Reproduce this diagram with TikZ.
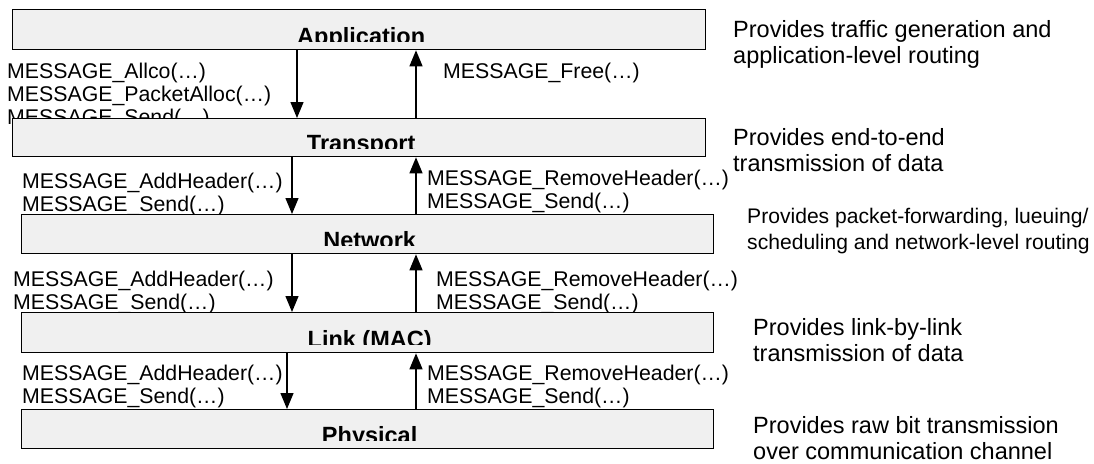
\documentclass[tikz,border=0pt]{standalone}
\usepackage{fontspec}
\setmainfont{Liberation Sans}
\usetikzlibrary{arrows.meta}

\definecolor{layerfill}{RGB}{240,240,240}

\tikzset{
	layer/.style={draw, line width=1.3pt, fill=layerfill, inner sep=0pt, anchor=north west},
	lbl/.style={font=\fontsize{23.5}{25}\selectfont\bfseries, inner sep=0pt, anchor=base},
	call/.style={font=\fontsize{21.3}{23}\selectfont, align=left, inner sep=0pt, anchor=north west},
	desc/.style={font=\fontsize{23.5}{26}\selectfont, align=left, inner sep=0pt, anchor=north west},
	flow/.style={line width=1.3pt, -{Triangle[length=16pt,width=13pt]}},
}

\begin{document}
\begin{tikzpicture}[x=1pt, y=-1pt]
		\useasboundingbox (0, 0) rectangle (1094, 463);

		% calls between the layers (drawn first, the boxes cover the overflow)
		\node[call] (allocs) at (7, 62.7) {MESSAGE\_Allco(\dots)\\MESSAGE\_PacketAlloc(\dots)\\MESSAGE\_Send(\dots)};
		\node[call] (frees) at (443, 62.7) {MESSAGE\_Free(\dots)};
		\node[call] (tdown) at (22, 172.7) {MESSAGE\_AddHeader(\dots)\\MESSAGE\_Send(\dots)};
		\node[call] (tup) at (427, 169.7) {MESSAGE\_RemoveHeader(\dots)\\MESSAGE\_Send(\dots)};
		\node[call] (ndown) at (13, 270.7) {MESSAGE\_AddHeader(\dots)\\MESSAGE\_Send(\dots)};
		\node[call] (nup) at (436, 270.7) {MESSAGE\_RemoveHeader(\dots)\\MESSAGE\_Send(\dots)};
		\node[call] (ldown) at (22, 364.7) {MESSAGE\_AddHeader(\dots)\\MESSAGE\_Send(\dots)};
		\node[call] (lup) at (427, 364.7) {MESSAGE\_RemoveHeader(\dots)\\MESSAGE\_Send(\dots)};

		% the protocol stack
		\node[layer, minimum width=693pt, minimum height=40pt] (app) at (12, 9) {};
		\node[layer, minimum width=693pt, minimum height=38pt] (trans) at (12, 118) {};
		\node[layer, minimum width=692pt, minimum height=39pt] (net) at (21, 214) {};
		\node[layer, minimum width=692pt, minimum height=40pt] (link) at (21, 312) {};
		\node[layer, minimum width=692pt, minimum height=39pt] (phys) at (21, 409) {};

		\foreach \lay/\txt in {app/Application, trans/Transport, net/Network, link/Link (MAC), phys/Physical} {
			\begin{scope}
				\clip (\lay.north west) rectangle ([yshift=9pt]\lay.south east);
				\node[lbl] (\lay-name) at ([xshift=2pt, yshift=6pt]\lay.south) {\txt};
			\end{scope}
		}

		% down and up calls
		\draw[flow] (app.south -| 297, 0) -- (trans.north -| 297, 0);
		\draw[flow] (trans.north -| 416, 0) -- (app.south -| 416, 0);
		\draw[flow] (trans.south -| 292, 0) -- (net.north -| 292, 0);
		\draw[flow] (net.north -| 416, 0) -- (trans.south -| 416, 0);
		\draw[flow] (net.south -| 292, 0) -- (link.north -| 292, 0);
		\draw[flow] (link.north -| 416, 0) -- (net.south -| 416, 0);
		\draw[flow] (link.south -| 287, 0) -- (phys.north -| 287, 0);
		\draw[flow] (phys.north -| 416, 0) -- (link.south -| 416, 0);

		% what each layer does
		\node[desc] (appdesc) at (733, 20) {Provides traffic generation and\\application-level routing};
		\node[desc] (transdesc) at (733, 128) {Provides end-to-end\\transmission of data};
		\node[desc, font=\fontsize{21.1}{26}\selectfont] (netdesc) at (747, 207.6) {Provides packet-forwarding, lueuing/\\scheduling and network-level routing};
		\node[desc] (linkdesc) at (753, 318) {Provides link-by-link\\transmission of data};
		\node[desc] (physdesc) at (753, 416) {Provides raw bit transmission\\over communication channel};
	\end{tikzpicture}
\end{document}
